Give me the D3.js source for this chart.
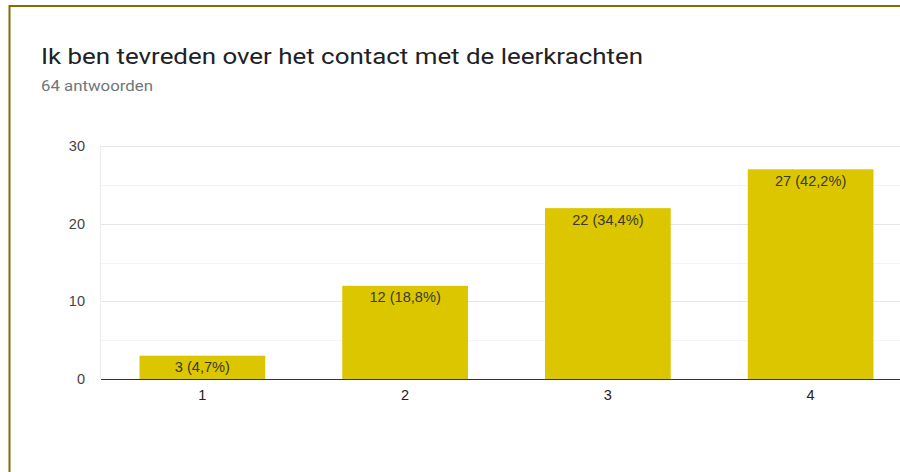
<!DOCTYPE html>
<html><head><meta charset="utf-8">
<script src="https://cdn.jsdelivr.net/npm/d3@7"></script>
<style>
html,body{margin:0;padding:0;background:#fff;}
svg{display:block;}
</style></head>
<body>
<svg id="c" width="900" height="472"></svg>
<script>
const categories = ["1", "2", "3", "4"];
const counts = [3, 12, 22, 27];
const labels = ["3 (4,7%)", "12 (18,8%)", "22 (34,4%)", "27 (42,2%)"];
const yTicks = [0, 10, 20, 30];
const yMinorTicks = [5, 15, 25];
const title = "Ik ben tevreden over het contact met de leerkrachten";
const subtitle = "64 antwoorden";

const svg = d3.select("#c");
// frame
svg.append("rect").attr("x", 0).attr("y", 0).attr("width", 900).attr("height", 472).attr("fill", "#fff");
svg.append("line").attr("x1", 9).attr("x2", 900).attr("y1", 6).attr("y2", 6).attr("stroke", "#8a6a00").attr("stroke-width", 2);
svg.append("line").attr("x1", 9.5).attr("x2", 9.5).attr("y1", 5).attr("y2", 472).attr("stroke", "#8a6a00").attr("stroke-width", 2);

svg.append("text").attr("x", 41).attr("y", 64).text(title)
  .attr("font-family", "Roboto, sans-serif").attr("font-size", 22.5).attr("fill", "#202124")
  .attr("textLength", 602).attr("lengthAdjust", "spacingAndGlyphs");
svg.append("text").attr("x", 41).attr("y", 91).text(subtitle)
  .attr("font-family", "Roboto, sans-serif").attr("font-size", 14.5).attr("fill", "#70757a")
  .attr("textLength", 112).attr("lengthAdjust", "spacingAndGlyphs");

const pLeft = 101, pRight = 912, pTop = 146, pBottom = 379;
const x = d3.scaleBand().domain(categories).range([pLeft, pRight]).paddingInner(0.38).paddingOuter(0.19);
const y = d3.scaleLinear().domain([0, 30]).range([pBottom, pTop]);

const g = svg.append("g").attr("font-family", "'Liberation Sans', Arial, sans-serif");
// minor gridlines
g.selectAll(".minor").data(yMinorTicks).join("line")
  .attr("x1", pLeft).attr("x2", 900).attr("y1", d => Math.round(y(d)) + 0.5).attr("y2", d => Math.round(y(d)) + 0.5)
  .attr("stroke", "#f4f4f4");
// major gridlines
g.selectAll(".major").data(yTicks.filter(d => d > 0)).join("line")
  .attr("x1", pLeft).attr("x2", 900).attr("y1", d => Math.round(y(d)) + 0.5).attr("y2", d => Math.round(y(d)) + 0.5)
  .attr("stroke", "#e6e6e6");
// left vertical
g.append("line").attr("x1", pLeft - 0.5).attr("x2", pLeft - 0.5).attr("y1", pTop).attr("y2", pBottom).attr("stroke", "#ebebeb");

// y axis labels
const yAxis = d3.axisLeft(y).tickValues(yTicks).tickSize(0).tickPadding(16);
const ya = g.append("g").attr("transform", `translate(${pLeft},0)`).call(yAxis);
ya.select(".domain").remove();
ya.selectAll("text").attr("font-size", 14.5).attr("fill", "#444").attr("font-family", "'Liberation Sans', Arial, sans-serif");

// bars
g.selectAll(".bar").data(counts).join("rect")
  .attr("x", (d, i) => x(categories[i])).attr("width", x.bandwidth())
  .attr("y", d => y(d)).attr("height", d => y(0) - y(d)).attr("fill", "#dcc600");

g.selectAll(".lbl").data(counts).join("text")
  .attr("x", (d, i) => x(categories[i]) + x.bandwidth() / 2).attr("y", d => y(d) + 16.5)
  .attr("text-anchor", "middle").attr("font-size", 14.6).attr("fill", "#3a3a2a")
  .text((d, i) => labels[i]);

// baseline
g.append("line").attr("x1", pLeft).attr("x2", 900).attr("y1", pBottom + 0.5).attr("y2", pBottom + 0.5).attr("stroke", "#333");

// x axis labels
const xAxis = d3.axisBottom(x).tickSize(0).tickPadding(11);
const xa = g.append("g").attr("transform", `translate(0,${pBottom})`).call(xAxis);
xa.select(".domain").remove();
xa.selectAll("text").attr("font-size", 14.5).attr("fill", "#222").attr("font-family", "'Liberation Sans', Arial, sans-serif");
</script>
</body></html>
